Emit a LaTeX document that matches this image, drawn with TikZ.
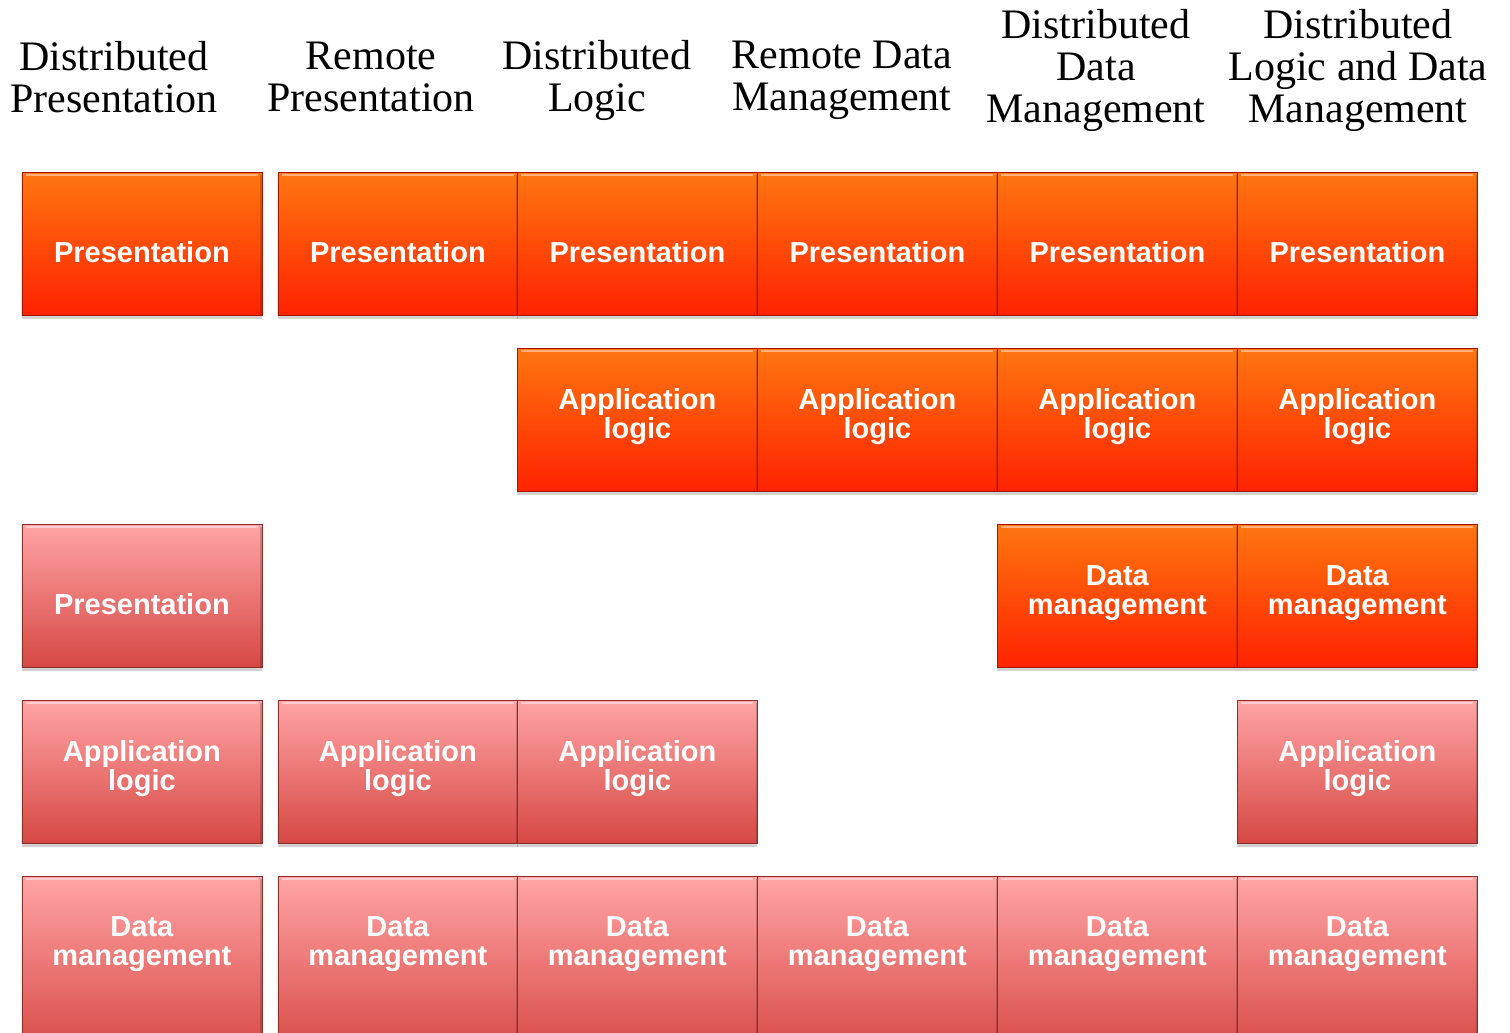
\documentclass[tikz,border=0pt]{standalone}
\usepackage{fontspec}
\setmainfont{Liberation Serif}
\newfontfamily\boxfont{Liberation Sans}
\usetikzlibrary{shadows}
\definecolor{orTop}{RGB}{255,118,16}
\definecolor{orBot}{RGB}{255,34,0}
\definecolor{pkTop}{RGB}{255,164,164}
\definecolor{pkBot}{RGB}{214,72,68}
\newcommand{\oneline}[1]{\vphantom{D}\\#1}
\begin{document}
\begin{tikzpicture}[x=1pt,y=-1pt,
  cell/.style={rectangle, minimum width=240pt, minimum height=143pt, inner sep=0pt,
    anchor=north west, draw=#1!65!black, line width=0.8pt,
    drop shadow={shadow xshift=0pt,shadow yshift=-4pt,opacity=0.25,fill=black!70},
    path picture={
      \draw[white,opacity=0.45,line width=2.5pt]
        ([xshift=4pt,yshift=-2.5pt]path picture bounding box.north west) --
        ([xshift=-4pt,yshift=-2.5pt]path picture bounding box.north east);
      \draw[black,opacity=0.18,line width=3pt]
        ([yshift=-3pt]path picture bounding box.north east) --
        (path picture bounding box.south east);
      \draw[black,opacity=0.12,line width=2pt]
        ([yshift=-3pt]path picture bounding box.north west) --
        (path picture bounding box.south west);
    },
    font=\boxfont\bfseries\fontsize{29}{29}\selectfont, text=white, align=center, text depth=12pt},
  ocell/.style={cell=orBot, top color=orTop, bottom color=orBot},
  pcell/.style={cell=pkBot, top color=pkTop, bottom color=pkBot},
  tallcell/.style={minimum height=180pt},
  celltext/.style={font=\boxfont\bfseries\fontsize{29}{29}\selectfont, text=white, align=center, inner sep=0pt, text depth=12pt},
  head/.style={font=\fontsize{42}{42}\selectfont, align=center, inner sep=0pt}]
\useasboundingbox (0,0) rectangle (1510,1033);
% headings
\node[head] (h1) at (114,77) {Distributed\\Presentation};
\node[head] (h2) at (371,77) {Remote\\Presentation};
\node[head] (h3) at (597,80.5) {Distributed\\Logic};
\node[head] (h4) at (842,80.5) {Remote Data\\Management};
\node[head] (h5) at (1096,70) {Distributed\\Data\\Management};
\node[head] (h6) at (1358,70) {Distributed\\Logic and Data\\Management};
\begin{scope}
\clip (0,0) rectangle (1510,1033);
% row 1
\node[ocell] (p1) at (21.5,172) {\oneline{Presentation}};
\node[ocell] (p2) at (277.5,172) {\oneline{Presentation}};
\node[ocell] (p3) at (517,172) {\oneline{Presentation}};
\node[ocell] (p4) at (757,172) {\oneline{Presentation}};
\node[ocell] (p5) at (997,172) {\oneline{Presentation}};
\node[ocell] (p6) at (1237,172) {\oneline{Presentation}};
% row 2
\node[ocell] (a3) at (517,348) {Application\\logic};
\node[ocell] (a4) at (757,348) {Application\\logic};
\node[ocell] (a5) at (997,348) {Application\\logic};
\node[ocell] (a6) at (1237,348) {Application\\logic};
% row 3
\node[pcell] (pp1) at (21.5,524) {\oneline{Presentation}};
\node[ocell] (d5) at (997,524) {Data\\management};
\node[ocell] (d6) at (1237,524) {Data\\management};
% row 4
\node[pcell] (pa1) at (21.5,700) {Application\\logic};
\node[pcell] (pa2) at (277.5,700) {Application\\logic};
\node[pcell] (pa3) at (517,700) {Application\\logic};
\node[pcell] (pa6) at (1237,700) {Application\\logic};
% row 5 (cut by the page edge)
\node[pcell,tallcell] (pd1) at (21.5,876) {};
\node[pcell,tallcell] (pd2) at (277.5,876) {};
\node[pcell,tallcell] (pd3) at (517,876) {};
\node[pcell,tallcell] (pd4) at (757,876) {};
\node[pcell,tallcell] (pd5) at (997,876) {};
\node[pcell,tallcell] (pd6) at (1237,876) {};
\foreach \n in {1,...,6}{
  \node[celltext] (td\n) at ([yshift=-71.5pt]pd\n.north) {Data\\management};
}
\end{scope}
\end{tikzpicture}
\end{document}
